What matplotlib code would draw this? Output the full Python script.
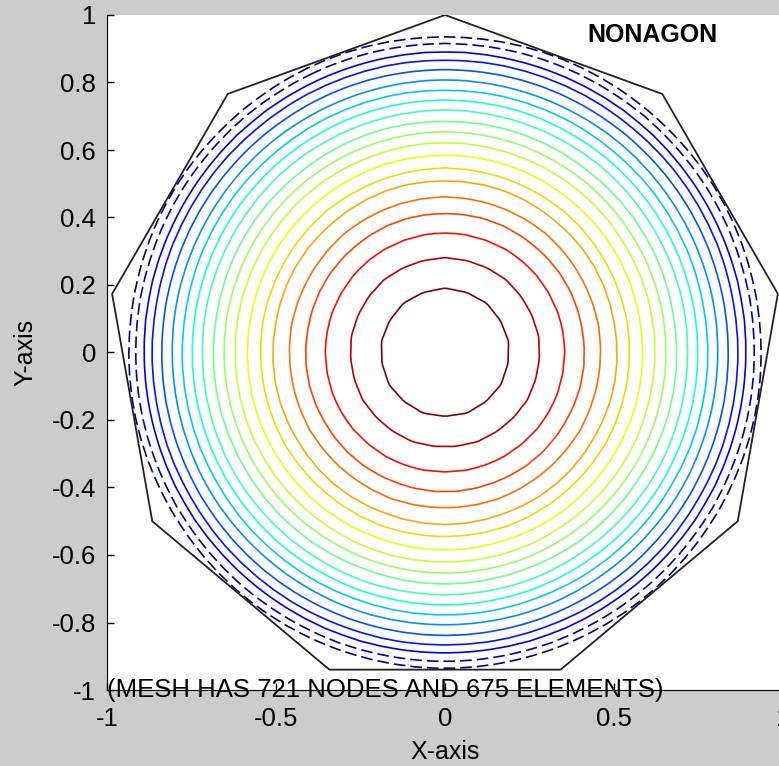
import numpy as np
import matplotlib
matplotlib.use("Agg")
import matplotlib.pyplot as plt
import matplotlib.tri as mtri

# DATA------------------------------------------------------------------------------------------------------------------
# contour radii, inside out (last two only show as broken pieces near the boundary)
level_r = [0.192, 0.282, 0.355, 0.414, 0.462, 0.510, 0.547, 0.586, 0.622, 0.655,
           0.686, 0.719, 0.749, 0.778, 0.808, 0.839, 0.867, 0.891, 0.916, 0.936]
n_broken = 2
x_ticks = [-1, -0.5, 0, 0.5, 1]
x_tick_labels = ["-1", "-0.5", "0", "0.5", "1"]
y_ticks = [-1, -0.8, -0.6, -0.4, -0.2, 0, 0.2, 0.4, 0.6, 0.8, 1]
y_tick_labels = ["-1", "-0.8", "-0.6", "-0.4", "-0.2", "0", "0.2", "0.4", "0.6", "0.8", "1"]
title = "NONAGON"
note = "(MESH HAS 721 NODES AND 675 ELEMENTS)"
n_sides = 9
n_rings = 11

plt.rcParams['font.family'] = ['Liberation Sans', 'DejaVu Sans']

# MESH------------------------------------------------------------------------------------------------------------------
ang = np.pi / 2 + 2 * np.pi * np.arange(n_sides + 1) / n_sides
vx = np.cos(ang)
vy = np.sin(ang)

px = [0.0]
py = [0.0]
for i in range(1, n_rings + 1):
    s = i / n_rings
    for e in range(n_sides):
        for j in range(i):
            t = j / i
            px.append(s * (vx[e] + t * (vx[e + 1] - vx[e])))
            py.append(s * (vy[e] + t * (vy[e + 1] - vy[e])))
px = np.array(px)
py = np.array(py)
tri = mtri.Triangulation(px, py)
u = 1.0 - px ** 2 - py ** 2

levels = sorted(1.0 - np.array(level_r) ** 2)
styles = [(0, (7, 3))] * n_broken + ['-'] * (len(levels) - n_broken)

# PLOT------------------------------------------------------------------------------------------------------------------
fig = plt.figure(figsize=(7.79, 7.66), dpi=100, facecolor='#cccccc')
ax = fig.add_axes([107 / 779, 1 - 690 / 766, 676 / 779, 675 / 766])
ax.set_facecolor('white')

ax.tricontour(tri, u, levels=levels, cmap='jet', linewidths=1.2, linestyles=styles)
ax.plot(vx, vy, color='#222222', lw=1.3)

ax.set_xlim(-1, 1)
ax.set_ylim(-1, 1)
ax.set_xticks(x_ticks)
ax.set_xticklabels(x_tick_labels)
ax.set_yticks(y_ticks)
ax.set_yticklabels(y_tick_labels)
ax.tick_params(direction='in', length=5, width=1, labelsize=18.5)
ax.tick_params(axis='x', pad=12)
ax.tick_params(axis='y', pad=8)
ax.spines['top'].set_visible(False)
ax.spines['right'].set_visible(False)
ax.set_xlabel("X-axis", fontsize=18, labelpad=7)
ax.set_ylabel("Y-axis", fontsize=18, labelpad=10)

ax.text(0.42, 0.94, title, fontsize=18, fontweight='bold', ha='left', va='center')
ax.text(-1.0, -1.0, note, fontsize=18.5, ha='left', va='center', clip_on=False)

fig.savefig("out.png", dpi=100, facecolor=fig.get_facecolor())
